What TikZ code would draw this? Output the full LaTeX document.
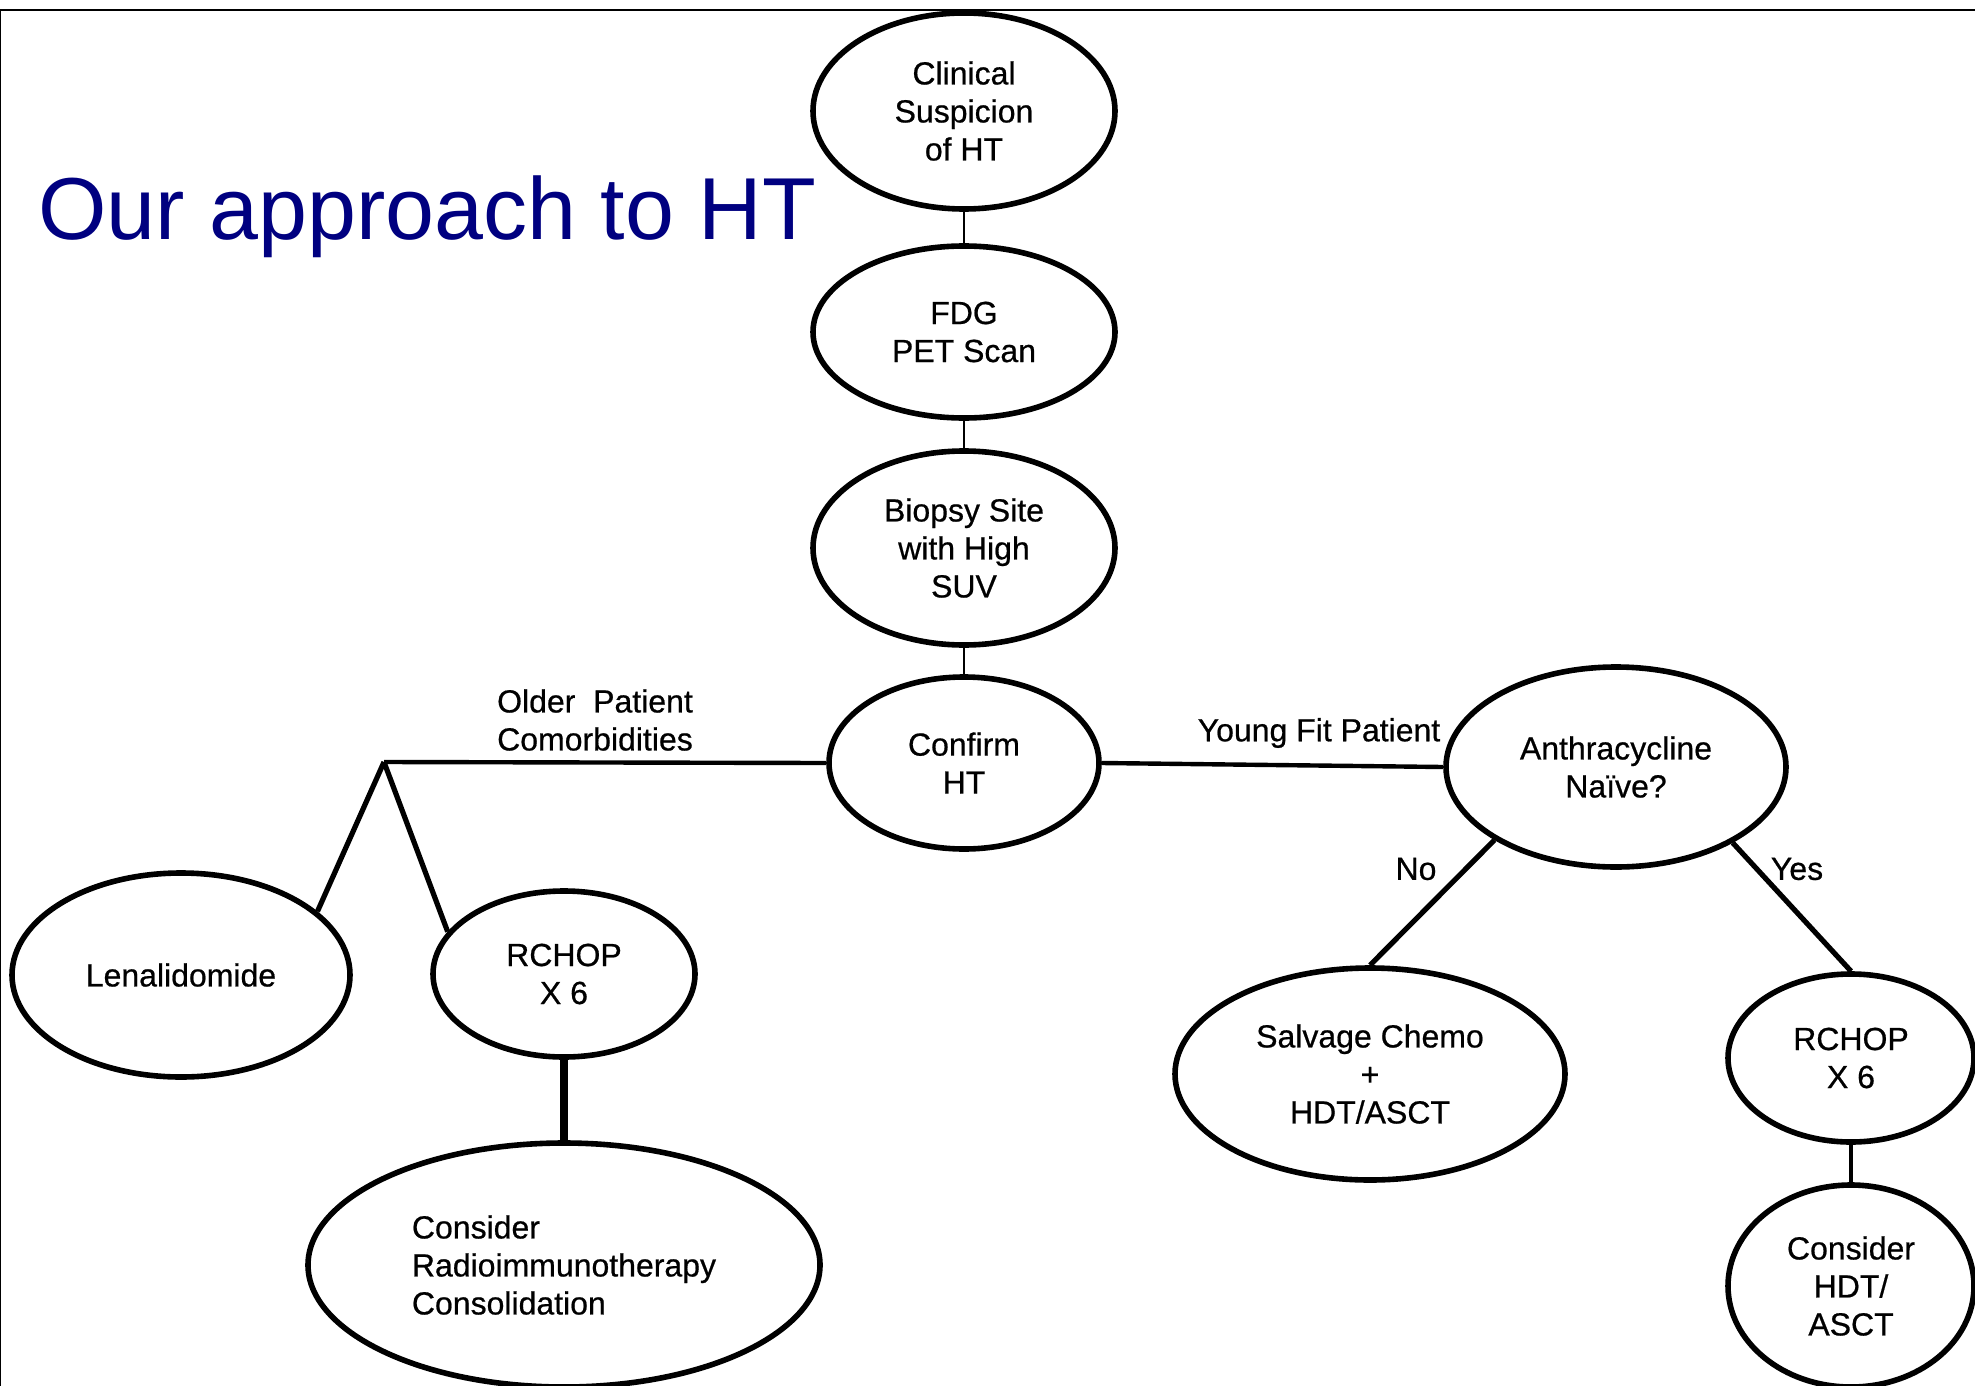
\documentclass[tikz,border=0pt]{standalone}
\usepackage{fontspec}
\setmainfont{Liberation Sans}
\newfontfamily\nodefont[FakeBold=0.6]{Liberation Sans}
\usetikzlibrary{shapes.geometric}
\definecolor{titleblue}{RGB}{0,0,128}
\begin{document}
\begin{tikzpicture}[x=0.5pt,y=-0.5pt,
  oval/.style={ellipse,draw,line width=2.8pt,inner sep=0pt,align=center,
    font=\nodefont\fontsize{16}{19}\selectfont},
  thinlink/.style={line width=1.4pt},
  hlink/.style={line width=2.2pt},
  dlink/.style={line width=2.6pt},
  elabel/.style={font=\nodefont\fontsize{16}{19}\selectfont,align=center,inner sep=0pt}]
\useasboundingbox (0,0) rectangle (1975,1386);
\draw[line width=1.2pt] (0,1386) -- (0,10) -- (1975,10);
\node[anchor=base west,text=titleblue,font=\fontsize{44}{50}\selectfont,inner sep=0pt] (title) at (38,239) {Our approach to HT};
\node[oval,minimum width=302pt/2,minimum height=196pt/2] (n1) at (964,111) {Clinical\\Suspicion\\of HT};
\node[oval,minimum width=302pt/2,minimum height=172pt/2] (n2) at (964,332) {FDG\\PET Scan};
\node[oval,minimum width=302pt/2,minimum height=194pt/2] (n3) at (964,548) {Biopsy Site\\with High\\SUV};
\node[oval,minimum width=270pt/2,minimum height=172pt/2] (n4) at (964,763) {Confirm\\HT};
\node[oval,minimum width=340pt/2,minimum height=200pt/2] (n5) at (1616,767) {Anthracycline\\Naïve?};
\node[oval,minimum width=338pt/2,minimum height=204pt/2] (n6) at (181,975) {Lenalidomide};
\node[oval,minimum width=262pt/2,minimum height=166pt/2] (n7) at (564,974) {RCHOP\\X 6};
\node[oval,minimum width=512pt/2,minimum height=244pt/2,align=left] (n8) at (564,1265) {Consider\\Radioimmunotherapy\\Consolidation};
\node[oval,minimum width=390pt/2,minimum height=212pt/2] (n9) at (1370,1074) {Salvage Chemo\\+\\HDT/ASCT};
\node[oval,minimum width=246pt/2,minimum height=168pt/2] (n10) at (1851,1058) {RCHOP\\X 6};
\node[oval,minimum width=246pt/2,minimum height=202pt/2] (n11) at (1851,1286) {Consider\\HDT/\\ASCT};
\coordinate (J) at (384,762);
\draw[thinlink] (n1.south) -- (n2.north);
\draw[thinlink] (n2.south) -- (n3.north);
\draw[thinlink] (n3.south) -- (n4.north);
\draw[hlink] (n4.west) -- (J);
\draw[dlink] (J) -- (n6.25);
\draw[dlink] (J) -- (n7.160);
\draw[line width=4pt] (n7.south) -- (n8.north);
\draw[hlink] (n4.east) -- (n5.west);
\draw[dlink] (n5.211) -- (n9.north);
\draw[dlink] (n5.327) -- (n10.north);
\draw[line width=2.2pt] (n10.south) -- (n11.north);
\node[elabel] (lold) at (595,720) {Older\ \ Patient\\Comorbidities};
\node[elabel] (lyoung) at (1319,733) {Young Fit Patient};
\node[elabel] (lno) at (1416,869) {No};
\node[elabel] (lyes) at (1797,869) {Yes};
\end{tikzpicture}
\end{document}
